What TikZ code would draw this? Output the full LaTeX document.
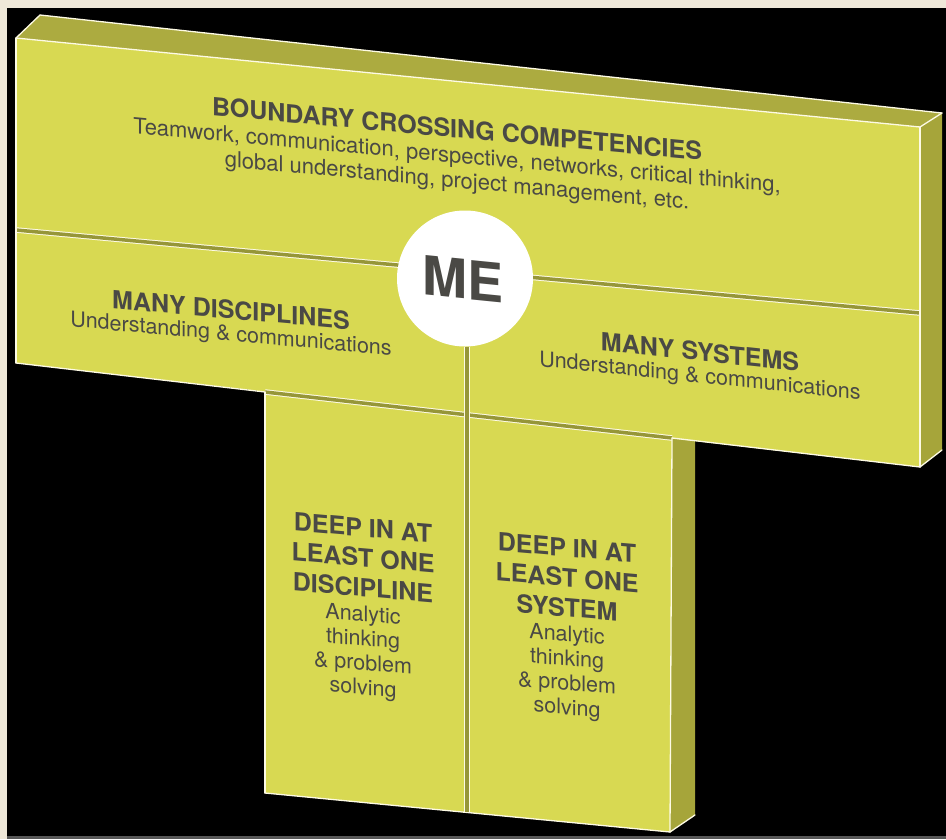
\documentclass[tikz,border=0pt]{standalone}
\usepackage{fontspec}
\setmainfont{TeX Gyre Heros}
\definecolor{facefront}{RGB}{216,217,82}
\definecolor{facetop}{RGB}{172,171,64}
\definecolor{faceside}{RGB}{166,165,58}
\definecolor{seamolive}{RGB}{150,150,56}
\definecolor{rimwhite}{RGB}{253,250,228}
\definecolor{inkgray}{RGB}{74,73,69}
\definecolor{framecream}{RGB}{239,232,217}
\definecolor{stripgray}{RGB}{88,88,88}
\tikzset{
  rim/.style={draw=rimwhite, line width=1.3pt, line cap=round, line join=round},
  seam/.style={draw=rimwhite, line width=1pt, double=seamolive, double distance=3.5pt},
  panel/.style={text=inkgray, align=center, inner sep=0pt, font=\fontsize{21.5}{24.5}\selectfont},
  medisc/.style={circle, fill=white, minimum size=136pt, inner sep=0pt},
  metext/.style={text=inkgray, inner sep=0pt, font=\fontsize{54}{54}\selectfont\bfseries}
}
\newcommand{\panelhead}[1]{{\fontsize{25}{25}\selectfont\bfseries #1}}

\begin{document}
\begin{tikzpicture}[x=1pt, y=-1pt]
\useasboundingbox (0,0) rectangle (946,839);
\fill[framecream] (0,0) rectangle (946,839);
\fill[black] (7,8) rectangle (946,836);
\fill[stripgray] (7,836) rectangle (946,839);

\coordinate (tbl) at (40,15);
\coordinate (tbr) at (942,113);
\coordinate (tfl) at (16,38);
\coordinate (tfr) at (920,127);
\coordinate (bfl) at (16,363);
\coordinate (bfr) at (920,467);
\coordinate (sbr) at (942,450);
\coordinate (pl) at (265,392);
\coordinate (pr) at (672,438);
\coordinate (pst) at (695,432);
\coordinate (pbl) at (265,793);
\coordinate (pbr) at (670,832);
\coordinate (psb) at (695,815);
\coordinate (sl) at (16,230);
\coordinate (sr) at (920,313);
\coordinate (vb) at (467,812);

\fill[faceside] (pr) -- (pst) -- (psb) -- (pbr) -- cycle;
\fill[facefront] (pl) -- (pr) -- (pbr) -- (pbl) -- cycle;
\fill[facetop] (tfl) -- (tbl) -- (tbr) -- (tfr) -- cycle;
\fill[faceside] (tfr) -- (tbr) -- (sbr) -- (bfr) -- cycle;
\fill[facefront] (tfl) -- (tfr) -- (bfr) -- (bfl) -- cycle;

\draw[seam] (sl) -- (sr);
\draw[seam] (pl) -- (pr);

\foreach \a/\b in {tfl/tbl, tbl/tbr, tbr/tfr, tfl/tfr, tfl/bfl, tfr/bfr, bfr/sbr,
                   bfl/pl, pr/bfr, pl/pbl, pbl/pbr, pbr/pr, pbr/psb}
{
  \draw[rim] (\a) -- (\b);
}

\node[medisc] (me) at (465,278.5) {};
\draw[seam] (vb |- me.south) -- (vb);
\node[metext, yslant=-0.1] (melabel) at (463,279) {ME};

\node[panel, yslant=-0.092, font=\fontsize{22}{25}\selectfont] (bcc) at (457,156)
  {\panelhead{BOUNDARY CROSSING COMPETENCIES}\\
   Teamwork, communication, perspective, networks, critical thinking,\\
   global understanding, project management, etc.};
\node[panel, yslant=-0.09, font=\fontsize{21.5}{22}\selectfont] (disc) at (231,323)
  {\panelhead{MANY DISCIPLINES}\\ Understanding \& communications};
\node[panel, yslant=-0.105, font=\fontsize{21.5}{22}\selectfont] (sys) at (700,365)
  {\panelhead{MANY SYSTEMS}\\ Understanding \& communications};
\node[panel, yslant=-0.087] (deepd) at (363,609)
  {\panelhead{DEEP IN AT}\\[5.5pt] \panelhead{LEAST ONE}\\[5.5pt] \panelhead{DISCIPLINE}\\
   Analytic\\ thinking\\ \& problem\\ solving};
\node[panel, yslant=-0.087] (deeps) at (567,629)
  {\panelhead{DEEP IN AT}\\[5.5pt] \panelhead{LEAST ONE}\\[5.5pt] \panelhead{SYSTEM}\\
   Analytic\\ thinking\\ \& problem\\ solving};
\end{tikzpicture}
\end{document}
